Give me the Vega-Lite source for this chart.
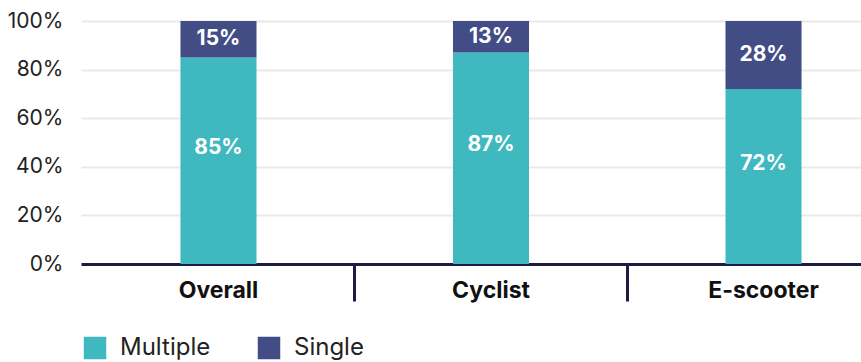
{
  "$schema": "https://vega.github.io/schema/vega-lite/v6.json",
  "autosize": {"type": "none"},
  "width": 780,
  "height": 243,
  "padding": {"left": 81, "top": 21, "right": 0, "bottom": 98},
  "background": "white",
  "config": {"font": "Inter", "view": {"stroke": null}},
  "data": {"values": [
    {"mode": "Overall", "type": "Multiple", "value": 0.85},
    {"mode": "Overall", "type": "Single", "value": 0.15},
    {"mode": "Cyclist", "type": "Multiple", "value": 0.87},
    {"mode": "Cyclist", "type": "Single", "value": 0.13},
    {"mode": "E-scooter", "type": "Multiple", "value": 0.72},
    {"mode": "E-scooter", "type": "Single", "value": 0.28}
  ]},
  "transform": [
    {"stack": "value", "groupby": ["mode"], "sort": [{"field": "type", "order": "ascending"}], "as": ["v0", "v1"]},
    {"calculate": "(datum.v0 + datum.v1) / 2", "as": "mid"}
  ],
  "encoding": {
    "x": {
      "field": "mode", "type": "nominal", "sort": ["Overall", "Cyclist", "E-scooter"],
      "scale": {"range": [0, 820], "paddingInner": 0.721, "paddingOuter": 0.365},
      "axis": {
        "title": null, "labelAngle": 0, "domain": true, "domainColor": "#1c1b46", "domainWidth": 3,
        "ticks": true, "tickSize": 37, "tickWidth": 3, "bandPosition": -1.293,
        "tickColor": {"condition": {"test": "datum.value === 'Overall'", "value": "transparent"}, "value": "#1c1b46"},
        "labelFontSize": 23, "labelFontWeight": "bold", "labelColor": "#111111", "labelPadding": -22,
        "grid": false
      }
    }
  },
  "layer": [
    {
      "mark": {"type": "bar"},
      "encoding": {
        "y": {"field": "v1", "type": "quantitative", "scale": {"domain": [0, 1]},
          "axis": {"title": null, "values": [0, 0.2, 0.4, 0.6, 0.8, 1], "format": ".0%", "grid": true,
            "gridColor": "#e9e9e9", "gridWidth": 2, "domain": false, "ticks": false,
            "labelFontSize": 21, "labelColor": "#222222", "labelPadding": 18}},
        "y2": {"field": "v0"},
        "color": {"field": "type", "type": "nominal",
          "scale": {"domain": ["Multiple", "Single"], "range": ["#40B8C0", "#434D85"]},
          "legend": {"title": null, "orient": "none", "legendX": 2, "legendY": 315, "direction": "horizontal",
            "symbolType": "square", "symbolSize": 506, "symbolOpacity": 1, "symbolStrokeWidth": 0,
            "labelFontSize": 24, "labelColor": "#222222", "labelOffset": 13, "columnPadding": 46}}
      }
    },
    {
      "transform": [{"filter": "datum.type === 'Single'"}],
      "mark": {"type": "text", "color": "white", "fontWeight": "bold", "fontSize": 21, "baseline": "middle"},
      "encoding": {"y": {"field": "mid", "type": "quantitative"}, "text": {"field": "value", "type": "quantitative", "format": ".0%"}}
    },
    {
      "transform": [{"filter": "datum.type === 'Multiple'"}],
      "mark": {"type": "text", "color": "white", "fontWeight": "bold", "fontSize": 21, "baseline": "middle", "dy": -13},
      "encoding": {"y": {"field": "mid", "type": "quantitative"}, "text": {"field": "value", "type": "quantitative", "format": ".0%"}}
    }
  ]
}
